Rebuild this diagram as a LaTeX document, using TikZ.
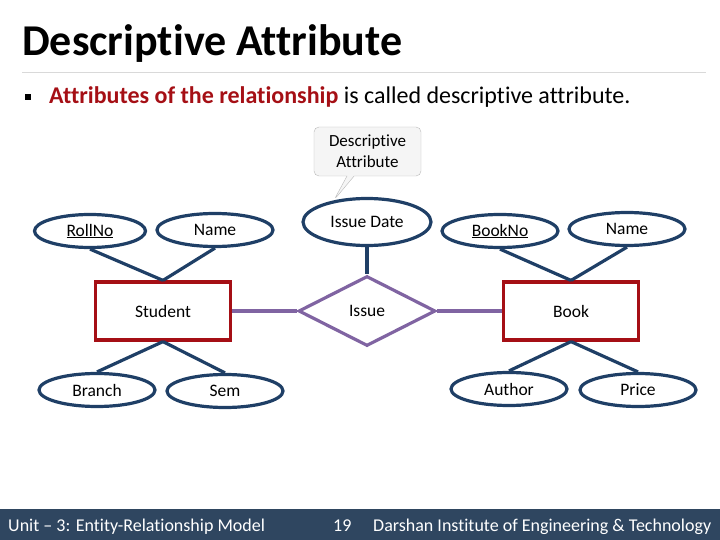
\documentclass[tikz,border=0pt]{standalone}
\usepackage{fontspec}
\setmainfont{Carlito}[Ligatures=NoCommon]
\usetikzlibrary{shapes.geometric,shapes.callouts}
\definecolor{Navy}{HTML}{1F3F66}
\definecolor{Crimson}{HTML}{A50F15}
\definecolor{Plum}{HTML}{8064A2}
\definecolor{Slate}{HTML}{2F4660}
\tikzset{
  attr/.style={ellipse,draw=Navy,line width=3.2pt,fill=white,minimum width=116pt,
    minimum height=33pt,inner sep=0pt,font=\fontsize{17.5}{21}\selectfont},
  entity/.style={rectangle,draw=Crimson,line width=3.2pt,fill=white,minimum width=135pt,
    minimum height=58pt,font=\fontsize{17.5}{21}\selectfont},
  rel/.style={diamond,aspect=2,draw=Plum,line width=3.2pt,fill=white,minimum width=137pt,
    minimum height=70pt,inner sep=0pt,font=\fontsize{17.5}{21}\selectfont},
  attrline/.style={Navy,line width=3.2pt},
  relline/.style={Plum,line width=3.2pt},
  foot/.style={anchor=base west,inner sep=0pt,text=white,font=\fontsize{18}{21}\selectfont}
}

\begin{document}
\begin{tikzpicture}[x=1pt,y=-1pt]
    \useasboundingbox (0,0) rectangle (720,540);
    % heading
    \node[anchor=base west,inner sep=0pt,font=\fontsize{44}{50}\selectfont\bfseries] (title) at (22,56) {Descriptive Attribute};
    \draw[gray!30,line width=0.8pt] (22,72)--(706,72);
    \fill (25,94) rectangle (31,100);
    \node[anchor=base west,inner sep=0pt,font=\fontsize{24}{28}\selectfont] (lead) at (49,104)
      {\textcolor{Crimson}{\bfseries Attributes of the relationship} is called descriptive attribute.};

    % entities and relationship
    \node[entity] (student) at (163,311) {Student};
    \node[rel] (issue) at (367,311) {Issue};
    \node[entity] (book) at (571,311) {Book};

    % attributes
    \node[attr,minimum width=111pt] (rollno) at (90,231) {\underline{RollNo}};
    \node[attr] (sname) at (215,230) {Name};
    \node[attr] (branch) at (97,390) {Branch};
    \node[attr] (sem) at (225,391) {Sem};
    \node[attr,minimum width=128pt,minimum height=47pt] (issuedate) at (367,222) {Issue Date};
    \node[attr] (bookno) at (500,231) {\underline{BookNo}};
    \node[attr] (bname) at (627,229) {Name};
    \node[attr] (author) at (509,389) {Author};
    \node[attr] (price) at (638,390) {Price};

    % callout
    \coordinate (tip) at (334,200);
    \node[rectangle callout,draw=gray!55,fill=gray!8,rounded corners=5pt,
      callout absolute pointer={(tip)},minimum width=107pt,minimum height=49pt,inner sep=2pt,
      align=center,font=\fontsize{17}{21}\selectfont] (desc) at (367.5,151.5) {Descriptive\\Attribute};

    % links
    \draw[relline] (student.east)--(issue.west);
    \draw[relline] (issue.east)--(book.west);
    \draw[attrline] (issuedate.south)--(issue.north);
    \draw[attrline] (student.north)--(rollno.south);
    \draw[attrline] (student.north)--(sname.south);
    \draw[attrline] (student.south)--(branch.north);
    \draw[attrline] (student.south)--(sem.north);
    \draw[attrline] (book.north)--(bookno.south);
    \draw[attrline] (book.north)--(bname.south);
    \draw[attrline] (book.south)--(author.north);
    \draw[attrline] (book.south)--(price.north);

    % footer
    \fill[Slate] (0,509) rectangle (720,540);
    \node[foot] (unit) at (8,531) {Unit -- 3: Entity-Relationship Model};
    \node[foot] (page) at (333,531) {19};
    \node[foot] (inst) at (373,531) {Darshan Institute of Engineering \& Technology};
\end{tikzpicture}
\end{document}
